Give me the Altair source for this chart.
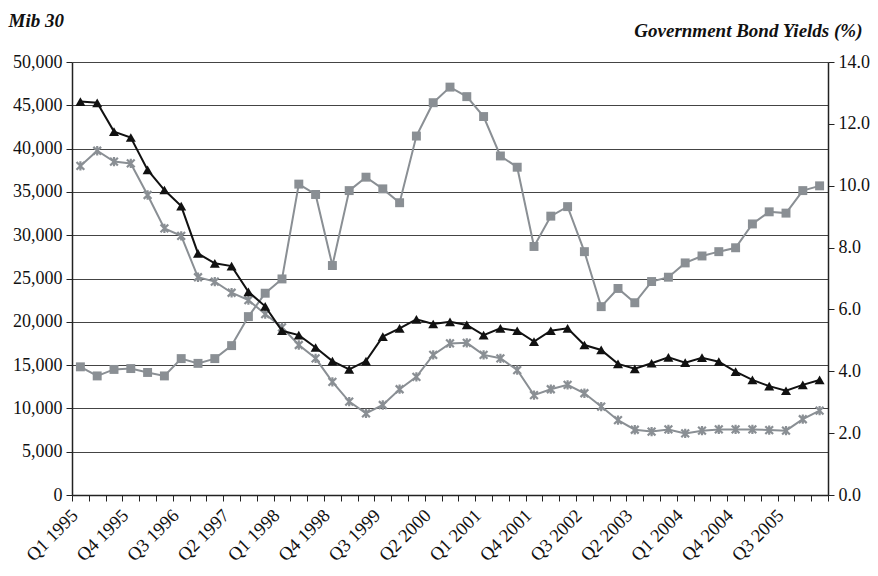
import altair as alt
import pandas as pd

# Quarterly categories, Q1 1995 .. Q1 2006
quarters = [f"Q{q} {y}" for y in range(1995, 2007) for q in range(1, 5)][:45]

# Mib 30 index level (left axis)
mib30 = [14800, 13750, 14500, 14600, 14150, 13750, 15750, 15200, 15750, 17250,
         20600, 23300, 24950, 35900, 34700, 26500, 35150, 36700, 35350, 33750,
         41450, 45300, 47100, 46000, 43700, 39150, 37850, 28700, 32200, 33300,
         28100, 21750, 23850, 22200, 24650, 25150, 26800, 27600, 28100, 28550,
         31300, 32700, 32550, 35150, 35700]

# Government bond yields, % (right axis)
yield_black = [12.72, 12.68, 11.75, 11.56, 10.51, 9.86, 9.34, 7.81, 7.49, 7.40,
               6.57, 6.10, 5.31, 5.17, 4.77, 4.33, 4.06, 4.33, 5.12, 5.39,
               5.68, 5.53, 5.60, 5.50, 5.17, 5.39, 5.31, 4.96, 5.31, 5.39,
               4.85, 4.69, 4.24, 4.08, 4.26, 4.45, 4.28, 4.44, 4.31, 3.99,
               3.72, 3.52, 3.37, 3.56, 3.72]
yield_grey = [10.64, 11.13, 10.78, 10.72, 9.70, 8.62, 8.38, 7.04, 6.90, 6.54,
              6.30, 5.85, 5.42, 4.85, 4.42, 3.66, 3.02, 2.64, 2.91, 3.42,
              3.82, 4.53, 4.90, 4.92, 4.53, 4.42, 4.04, 3.23, 3.42, 3.56,
              3.29, 2.86, 2.42, 2.11, 2.05, 2.12, 1.99, 2.08, 2.12, 2.12,
              2.12, 2.10, 2.08, 2.45, 2.73]

left_ticks = list(range(0, 50001, 5000))
right_ticks = [0, 2, 4, 6, 8, 10, 12, 14]

df = pd.DataFrame({"quarter": quarters, "mib30": mib30,
                   "yield_black": yield_black, "yield_grey": yield_grey})

FONT = "Liberation Serif"
GREY = "#8a8f94"
INK = "#111111"
STAR = "M-1,-1L1,1M-1,1L1,-1M0,-1.2L0,1.2"

x_enc = alt.X(
    "quarter:N", sort=quarters,
    scale=alt.Scale(type="band", paddingInner=0, paddingOuter=0),
    axis=alt.Axis(
        title=None, labelAngle=-45, labelAlign="right", labelBaseline="middle",
        labelOverlap=False, tickBand="extent",
        labelExpr="((toNumber(substring(datum.label, 3)) - 1995) * 4 + "
                  "toNumber(substring(datum.label, 1, 2)) - 1) % 3 == 0 ? datum.label : ''",
        labelFont=FONT, labelFontSize=18.5, labelColor="#111", labelPadding=11,
        labelOffset=-6,
        tickSize=6, tickColor="#222", domainColor="#222", domainWidth=1.5,
        grid=False,
    ),
)

left_axis = alt.Axis(
    values=left_ticks, format=",.0f", grid=True, gridColor="#444444", gridWidth=1.2,
    labelFont=FONT, labelFontSize=18, labelColor="#111", labelPadding=4,
    tickSize=6, tickColor="#222", domainColor="#222", domainWidth=1.5,
    title="Mib 30", titleFont=FONT, titleFontSize=19, titleFontWeight="bold",
    titleFontStyle="italic", titleAngle=0, titleAlign="left",
    titleBaseline="alphabetic", titleX=-64, titleY=-36, titleColor="#111",
)

right_axis = alt.Axis(
    orient="right", values=right_ticks, format=".1f", grid=False,
    labelFont=FONT, labelFontSize=18, labelColor="#111", labelPadding=4,
    tickSize=6, tickColor="#222", domainColor="#222", domainWidth=1.5,
    title="Government Bond Yields (%)", titleFont=FONT, titleFontSize=19,
    titleFontWeight="bold", titleFontStyle="italic", titleAngle=0,
    titleAlign="right", titleBaseline="alphabetic", titleX=34, titleY=-26,
    titleColor="#111",
)

mib_line = alt.Chart(df).mark_line(
    color=GREY, strokeWidth=2,
    point=alt.OverlayMarkDef(shape="square", size=80, filled=True, color=GREY, opacity=1),
).encode(
    x=x_enc,
    y=alt.Y("mib30:Q", scale=alt.Scale(domain=[0, 50000], nice=False), axis=left_axis),
)

yr_scale = alt.Scale(domain=[0, 14], nice=False)

grey_yield = alt.Chart(df).mark_line(
    color=GREY, strokeWidth=2,
    point=alt.OverlayMarkDef(shape=STAR, size=60, filled=False, stroke=GREY,
                             strokeWidth=2.2, opacity=1),
).encode(
    x=x_enc,
    y=alt.Y("yield_grey:Q", scale=yr_scale, axis=right_axis),
)

black_yield = alt.Chart(df).mark_line(
    color=INK, strokeWidth=2,
    point=alt.OverlayMarkDef(shape="triangle-up", size=100, filled=True, color=INK, opacity=1),
).encode(
    x=x_enc,
    y=alt.Y("yield_black:Q", scale=yr_scale, axis=right_axis),
)

chart = alt.layer(
    mib_line,
    alt.layer(grey_yield, black_yield),
).resolve_scale(
    y="independent"
).properties(
    width=756, height=433,
    autosize=alt.AutoSizeParams(type="none"),
    padding={"left": 72, "top": 62, "right": 50, "bottom": 81},
    background="white",
).configure_view(stroke=None)

chart.save("out.html", embed_options={"renderer": "svg", "actions": False})
